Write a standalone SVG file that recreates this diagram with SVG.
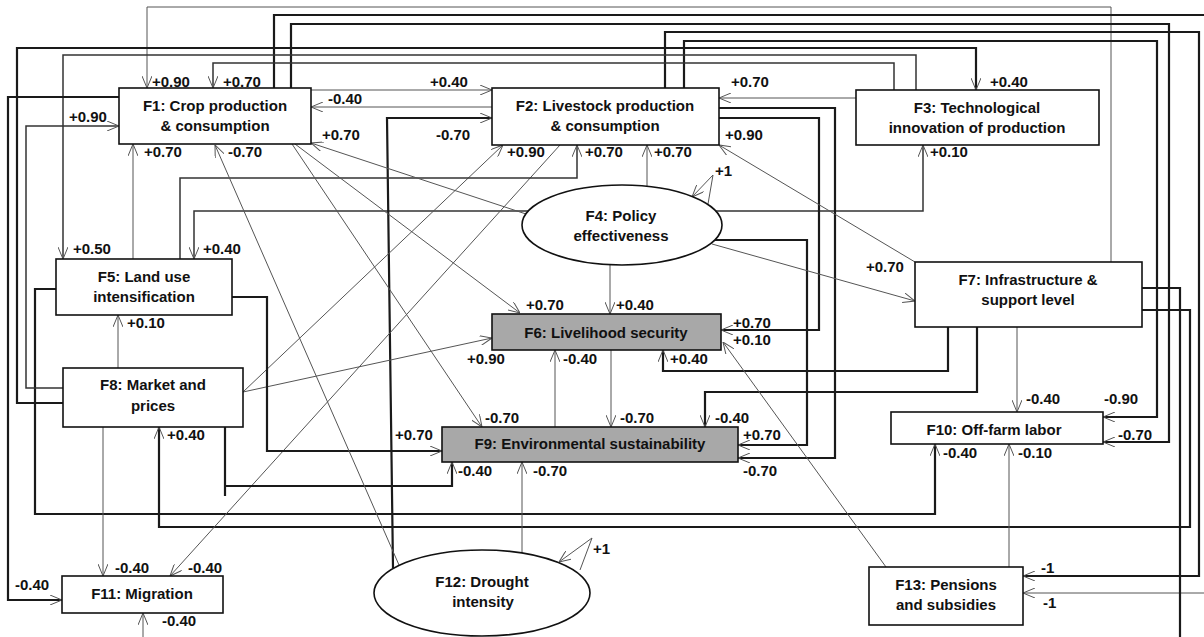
<svg xmlns="http://www.w3.org/2000/svg" width="1204" height="637" viewBox="0 0 1204 637">
<defs>
<style>
.b{fill:#fff;stroke:#111;stroke-width:1.6}
.g{fill:#a8a8a8;stroke:#111;stroke-width:1.6}
text{font-family:"Liberation Sans",Arial,sans-serif;font-weight:bold;font-size:15px;fill:#111}
.n text{text-anchor:middle}
.t{fill:none;stroke:#555;stroke-width:1}
.k{fill:none;stroke:#1a1a1a;stroke-width:2.2}
.m{fill:none;stroke:#333;stroke-width:1.5}
</style>
<marker id="a" viewBox="0 0 12 10" refX="12" refY="5" markerWidth="12" markerHeight="10" markerUnits="userSpaceOnUse" orient="auto">
<path d="M0,0 L12,5 L0,10" fill="none" stroke="#555" stroke-width="1"/>
</marker>
</defs>
<rect width="1204" height="637" fill="#fff"/>
<g id="connectors">
<path class="t" d="M1111,262 V7 H147 V88" marker-end="url(#a)"/>
<path class="k" d="M274,88 V15 H1204"/>
<path class="t" d="M1204,593 H1023" marker-end="url(#a)"/>
<path class="k" d="M291,88 V24 H1169 V442 H1103" marker-end="url(#a)"/>
<path class="k" d="M665,88 V32 H1199 V576 H1023" marker-end="url(#a)"/>
<path class="k" d="M684,88 V41 H1157 V417 H1103" marker-end="url(#a)"/>
<path class="k" d="M63,403 H17 V48 H976 V90" marker-end="url(#a)"/>
<path class="m" d="M916,90 V55 H63 V259" marker-end="url(#a)"/>
<path class="m" d="M894,90 V63 H213 V88" marker-end="url(#a)"/>
<path class="t" d="M856,98 H719" marker-end="url(#a)"/>
<path class="m" d="M716,211 H923 V145" marker-end="url(#a)"/>
<path class="m" d="M528,211 H194 V259" marker-end="url(#a)"/>
<path class="t" d="M311,90 H492" marker-end="url(#a)"/>
<path class="t" d="M492,107 H311" marker-end="url(#a)"/>
<path class="k" d="M393,568 L387,118 H492" marker-end="url(#a)"/>
<path class="k" d="M719,108 H835 V458 H738" marker-end="url(#a)"/>
<path class="k" d="M719,118 H819 V330 H721" marker-end="url(#a)"/>
<path class="k" d="M715,240 H807 V445 H738" marker-end="url(#a)"/>
<path class="t" d="M915,262 L719,145" marker-end="url(#a)"/>
<path class="t" d="M712,244 L915,301" marker-end="url(#a)"/>
<path class="k" d="M948,327 V371 H663 V350" marker-end="url(#a)"/>
<path class="k" d="M977,327 V392 H705 V427" marker-end="url(#a)"/>
<path class="t" d="M1017,327 V412" marker-end="url(#a)"/>
<path class="k" d="M1142,288 H1180 V637"/>
<path class="t" d="M143,637 V613" marker-end="url(#a)"/>
<path class="k" d="M1142,310 H1190 V527 H159 V427" marker-end="url(#a)"/>
<path class="k" d="M56,289 H35 V514 H935 V444" marker-end="url(#a)"/>
<path class="t" d="M1009,567 V444" marker-end="url(#a)"/>
<path class="t" d="M886,567 L723,342" marker-end="url(#a)"/>
<path class="t" d="M103,427 V576" marker-end="url(#a)"/>
<path class="t" d="M560,145 L170,576" marker-end="url(#a)"/>
<path class="k" d="M119,97 H8 V600 H62" marker-end="url(#a)"/>
<path class="k" d="M225,427 V496 M225,486 H452 V462" marker-end="url(#a)"/>
<path class="m" d="M63,388 H26 V126 H119" marker-end="url(#a)"/>
<path class="t" d="M118,368 V315" marker-end="url(#a)"/>
<path class="t" d="M243,392 L503,145" marker-end="url(#a)"/>
<path class="t" d="M243,392 L492,338" marker-end="url(#a)"/>
<path class="t" d="M133,259 V144" marker-end="url(#a)"/>
<path class="m" d="M180,259 V178 H577 V145" marker-end="url(#a)"/>
<path class="k" d="M232,297 H267 V451 H442" marker-end="url(#a)"/>
<path class="t" d="M526,214 L311,143" marker-end="url(#a)"/>
<path class="t" d="M610,265 V314" marker-end="url(#a)"/>
<path class="t" d="M647,186 V145" marker-end="url(#a)"/>
<path class="t" d="M708,204 L713,175 L692,197" marker-end="url(#a)"/>
<path class="t" d="M555,427 V350" marker-end="url(#a)"/>
<path class="t" d="M611,350 V427" marker-end="url(#a)"/>
<path class="t" d="M295,144 L520,313" marker-end="url(#a)"/>
<path class="t" d="M292,144 L482,427" marker-end="url(#a)"/>
<path class="t" d="M399,565 L215,145" marker-end="url(#a)"/>
<path class="t" d="M522,553 V462" marker-end="url(#a)"/>
<path class="t" d="M580,570 L592,538 L559,562" marker-end="url(#a)"/>
</g>
<g id="F1" class="n"><rect class="b" x="119" y="88" width="192" height="56"/><text x="215" y="111">F1: Crop production</text><text x="215" y="131">&amp; consumption</text></g>
<g id="F2" class="n"><rect class="b" x="492" y="88" width="227" height="57"/><text x="605" y="111">F2: Livestock production</text><text x="605" y="131">&amp; consumption</text></g>
<g id="F3" class="n"><rect class="b" x="856" y="90" width="243" height="55"/><text x="977" y="113">F3: Technological</text><text x="977" y="133">innovation of production</text></g>
<g id="F4" class="n"><ellipse class="b" cx="622" cy="225" rx="100" ry="40"/><text x="621" y="221">F4: Policy</text><text x="621" y="241">effectiveness</text></g>
<g id="F5" class="n"><rect class="b" x="56" y="259" width="176" height="56"/><text x="144" y="282">F5: Land use</text><text x="144" y="302">intensification</text></g>
<g id="F6" class="n"><rect class="g" x="492" y="314" width="229" height="36"/><text x="606" y="338">F6: Livelihood security</text></g>
<g id="F7" class="n"><rect class="b" x="915" y="262" width="227" height="65"/><text x="1028" y="285">F7:  Infrastructure &amp;</text><text x="1028" y="305">support level</text></g>
<g id="F8" class="n"><rect class="b" x="63" y="368" width="180" height="59"/><text x="153" y="390">F8: Market and</text><text x="153" y="411">prices</text></g>
<g id="F9" class="n"><rect class="g" x="442" y="427" width="296" height="35"/><text x="590" y="449">F9: Environmental sustainability</text></g>
<g id="F10" class="n"><rect class="b" x="891" y="412" width="212" height="32"/><text x="994" y="435">F10: Off-farm labor</text></g>
<g id="F11" class="n"><rect class="b" x="62" y="576" width="161" height="37"/><text x="142" y="599">F11: Migration</text></g>
<g id="F12" class="n"><ellipse class="b" cx="482" cy="593" rx="108" ry="43"/><text x="482" y="587">F12: Drought</text><text x="483" y="607">intensity</text></g>
<g id="F13" class="n"><rect class="b" x="869" y="567" width="154" height="58"/><text x="946" y="590">F13: Pensions</text><text x="946" y="610">and subsidies</text></g>
<g id="labels">
<text x="152" y="87">+0.90</text><text x="223" y="87">+0.70</text><text x="328" y="104">-0.40</text>
<text x="69" y="122">+0.90</text><text x="322" y="140">+0.70</text><text x="144" y="157">+0.70</text>
<text x="228" y="157">-0.70</text><text x="430" y="87">+0.40</text><text x="436" y="140">-0.70</text>
<text x="507" y="157">+0.90</text><text x="585" y="157">+0.70</text><text x="654" y="157">+0.70</text>
<text x="715" y="176">+1</text><text x="731" y="87">+0.70</text><text x="725" y="140">+0.90</text>
<text x="990" y="87">+0.40</text><text x="930" y="157">+0.10</text><text x="73" y="254">+0.50</text>
<text x="203" y="254">+0.40</text><text x="127" y="328">+0.10</text><text x="526" y="310">+0.70</text>
<text x="616" y="310">+0.40</text><text x="733" y="328">+0.70</text><text x="733" y="345">+0.10</text>
<text x="467" y="364">+0.90</text><text x="563" y="364">-0.40</text><text x="670" y="364">+0.40</text>
<text x="485" y="423">-0.70</text><text x="620" y="423">-0.70</text><text x="715" y="423">-0.40</text>
<text x="866" y="272">+0.70</text><text x="1026" y="404">-0.40</text><text x="1104" y="404">-0.90</text>
<text x="167" y="440">+0.40</text><text x="115" y="573">-0.40</text><text x="188" y="573">-0.40</text>
<text x="15" y="590">-0.40</text><text x="162" y="626">-0.40</text><text x="395" y="440">+0.70</text>
<text x="458" y="476">-0.40</text><text x="533" y="476">-0.70</text><text x="743" y="440">+0.70</text>
<text x="743" y="476">-0.70</text><text x="593" y="554">+1</text><text x="1118" y="440">-0.70</text>
<text x="943" y="458">-0.40</text><text x="1018" y="458">-0.10</text><text x="1041" y="573">-1</text>
<text x="1043" y="608">-1</text>
</g>
</svg>
